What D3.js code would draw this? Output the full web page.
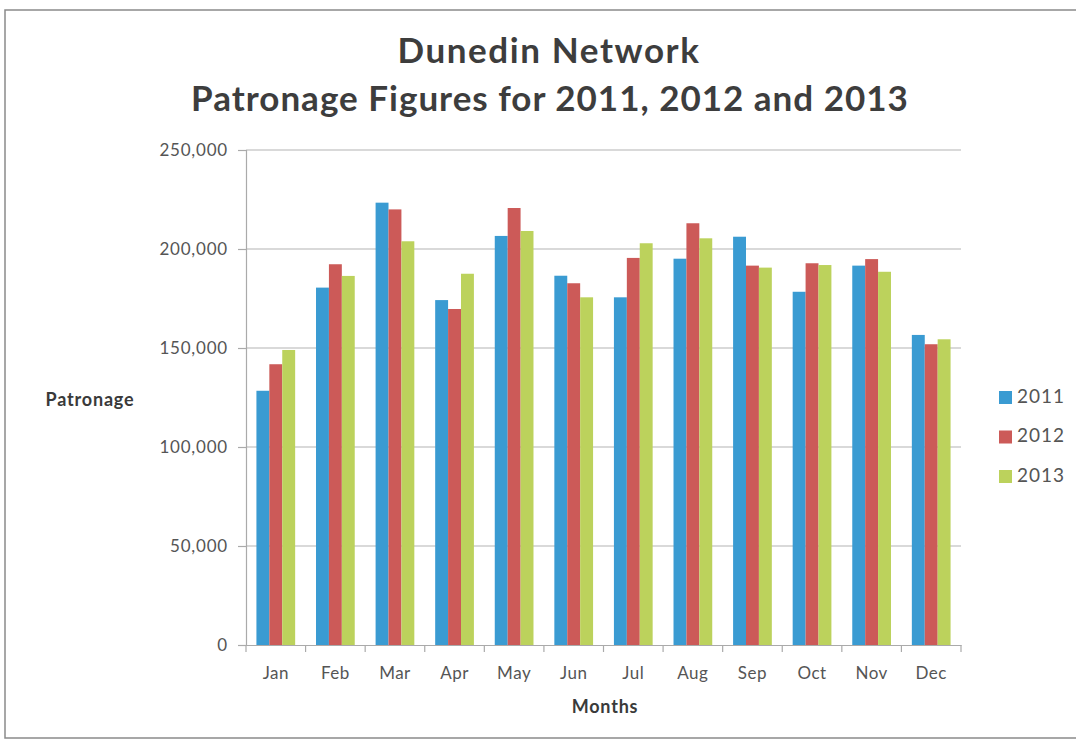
<!DOCTYPE html>
<html>
<head>
  <meta charset="utf-8">
  <script src="https://d3js.org/d3.v7.min.js"></script>
  <style>
    body { margin: 0; background: #fff; font-family: Lato, "Open Sans", sans-serif; }
    .tick text { fill: #555; font-family: Lato, sans-serif; }
  </style>
  <title>Dunedin Network</title>
</head>
<body>
  <svg></svg>
  <script>
    const months = ["Jan", "Feb", "Mar", "Apr", "May", "Jun", "Jul", "Aug", "Sep", "Oct", "Nov", "Dec"]
    const years = ["2011", "2012", "2013"]
    const colors = ["#3a9bd2", "#cc5a58", "#bcd25c"]

    const v2011 = [128400, 180500, 223400, 174200, 206600, 186500, 175600, 195100, 206200, 178400, 191600, 156600]
    const v2012 = [141800, 192300, 220000, 169700, 220700, 182700, 195500, 213000, 191600, 192800, 194900, 151900]
    const v2013 = [149000, 186400, 203900, 187500, 209100, 175600, 202900, 205400, 190600, 191900, 188500, 154400]
    const yTicks = [0, 50000, 100000, 150000, 200000, 250000]

    const series = [v2011, v2012, v2013]
    const rows = months.map((m, i) => ({ month: m, values: years.map((y, j) => ({ year: y, value: series[j][i] })) }))

    const width = 1076, height = 741
    const margin = { left: 246, right: 115, top: 150, bottom: 96 }

    const svg = d3.select("svg").attr("width", width).attr("height", height)

    // page frame
    svg.append("rect")
      .attr("x", 5).attr("y", 10)
      .attr("width", 1080).attr("height", 728)
      .attr("fill", "none").attr("stroke", "#8a8a8a").attr("stroke-width", 1.5)

    const x = d3.scaleBand()
      .domain(months)
      .range([margin.left, width - margin.right])
      .paddingInner(0.35)
      .paddingOuter(0.175)

    const xs = d3.scaleBand()
      .domain(years)
      .range([0, x.bandwidth()])

    const y = d3.scaleLinear()
      .domain([0, 250000])
      .range([height - margin.bottom, margin.top])

    // gridlines
    svg.append("g")
      .selectAll("line")
      .data(yTicks.slice(1))
      .join("line")
      .attr("x1", margin.left).attr("x2", width - margin.right)
      .attr("y1", d => y(d)).attr("y2", d => y(d))
      .attr("stroke", "#cccccc").attr("stroke-width", 1.5)

    // bars
    svg.append("g")
      .selectAll("g")
      .data(rows)
      .join("g")
      .attr("transform", d => `translate(${x(d.month)},0)`)
      .selectAll("rect")
      .data(d => d.values)
      .join("rect")
      .attr("x", d => xs(d.year))
      .attr("y", d => y(d.value))
      .attr("width", xs.bandwidth())
      .attr("height", d => y(0) - y(d.value))
      .attr("fill", (d, i) => colors[i])

    // y axis
    const yAxis = svg.append("g")
      .attr("transform", `translate(${margin.left},0)`)
      .call(d3.axisLeft(y).tickValues(yTicks).tickSize(8).tickPadding(10).tickFormat(d3.format(",")))
    yAxis.attr("font-family", null).attr("font-size", null)
    yAxis.selectAll("line, path").attr("stroke", "#aaa").attr("stroke-width", 1.2)
    yAxis.selectAll("text").style("font-size", "17px").style("letter-spacing", "0.8px")

    // x axis
    const xAxis = svg.append("g")
      .attr("transform", `translate(0,${y(0)})`)
      .call(d3.axisBottom(x).tickSize(0).tickPadding(22))
    xAxis.attr("font-family", null).attr("font-size", null)
    xAxis.select("path").attr("stroke", "#aaa").attr("stroke-width", 1.2)
    xAxis.selectAll("text").style("font-size", "17px").style("letter-spacing", "0.5px")

    // category dividers below the axis
    const step = x.step()
    svg.append("g")
      .selectAll("line")
      .data(d3.range(months.length + 1))
      .join("line")
      .attr("x1", i => margin.left + i * step).attr("x2", i => margin.left + i * step)
      .attr("y1", y(0)).attr("y2", y(0) + 7)
      .attr("stroke", "#aaa").attr("stroke-width", 1.2)

    // titles
    svg.append("text")
      .attr("x", 549).attr("y", 63)
      .attr("text-anchor", "middle")
      .attr("fill", "#3d3d3d")
      .style("font-size", "35px").style("font-weight", "bold")
      .style("letter-spacing", "1.6px")
      .text("Dunedin Network")

    svg.append("text")
      .attr("x", 550).attr("y", 111)
      .attr("text-anchor", "middle")
      .attr("fill", "#3d3d3d")
      .style("font-size", "35px").style("font-weight", "bold")
      .style("letter-spacing", "1px")
      .text("Patronage Figures for 2011, 2012 and 2013")

    svg.append("text")
      .attr("x", 90).attr("y", 406)
      .attr("text-anchor", "middle")
      .attr("fill", "#3a3a3a")
      .style("font-size", "18px").style("font-weight", "bold")
      .style("letter-spacing", "0.8px")
      .text("Patronage")

    svg.append("text")
      .attr("x", 605).attr("y", 713)
      .attr("text-anchor", "middle")
      .attr("fill", "#3a3a3a")
      .style("font-size", "18px").style("font-weight", "bold")
      .style("letter-spacing", "0.8px")
      .text("Months")

    // legend
    const legend = svg.append("g")
      .selectAll("g")
      .data(years)
      .join("g")
      .attr("transform", (d, i) => `translate(999,${391 + i * 39.5})`)
    legend.append("rect")
      .attr("width", 13).attr("height", 13)
      .attr("fill", (d, i) => colors[i])
    legend.append("text")
      .attr("x", 18).attr("y", 7)
      .attr("dominant-baseline", "middle")
      .attr("fill", "#555")
      .style("font-size", "19px")
      .style("letter-spacing", "1px")
      .text(d => d)
  </script>
</body>
</html>
